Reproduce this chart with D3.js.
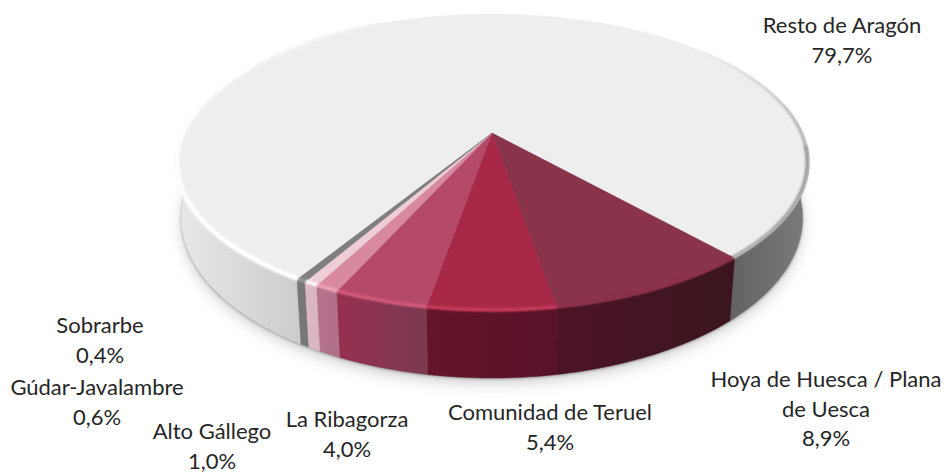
<!DOCTYPE html>
<html>
<head>
<meta charset="utf-8">
<script src="https://cdnjs.cloudflare.com/ajax/libs/d3/7.8.5/d3.min.js"></script>
<style>
  html, body { margin: 0; padding: 0; background: #fff; overflow: hidden; }
  svg { display: block; }
  text { font-family: Lato, "Open Sans", sans-serif; font-size: 22px; fill: #262626; text-anchor: middle; }
</style>
</head>
<body>
<svg id="chart" width="947" height="472"></svg>
<script>
const categories = ["Resto de Aragón", "Hoya de Huesca / Plana de Uesca", "Comunidad de Teruel", "La Ribagorza", "Alto Gállego", "Gúdar-Javalambre", "Sobrarbe"];
const shares = [79.7, 8.9, 5.4, 4.0, 1.0, 0.6, 0.4];
const shareLabels = ["79,7%", "8,9%", "5,4%", "4,0%", "1,0%", "0,6%", "0,4%"];

const topColors = ["#eeeeef", "#8a344c", "#a72947", "#b54a68", "#d8899f", "#eecdd7", "#7f7f7f"];
// side colours run along the slice in pie order
const sideFrom = ["#636363", "#3a151e", "#581228", "#7a3a50", "#b0708a", "#d9b5c2", "#777777"];
const sideTo = ["#e2e2e2", "#4c1425", "#661429", "#96304f", "#b5738a", "#dcb9c5", "#777777"];
const rimColors = ["#ffffff", "#8a2f49", "#c63a5c", "#d65a7c", "#f0a5b8", "#ffffff", "#999999"];

// label lines and anchor, one entry per category
const labelLines = [
  ["Resto de Aragón", "79,7%"],
  ["Hoya de Huesca / Plana", "de Uesca", "8,9%"],
  ["Comunidad de Teruel", "5,4%"],
  ["La Ribagorza", "4,0%"],
  ["Alto Gállego", "1,0%"],
  ["Gúdar-Javalambre", "0,6%"],
  ["Sobrarbe", "0,4%"]
];
const labelX = [842, 826, 550, 347, 212, 97, 100];
const labelY = [33, 387, 420, 427, 439, 395, 333];
const lineStep = 29.5;

const cx = 492, rx = 310.6, persp = 0.199;
const topPlane = { cy: 133, ry: 142.6, sx: 1 };
const bottomPlane = { cy: 186, ry: 153.8, sx: 0.98 };

// disc angle -> screen, perspective drop toward the viewer
function project(angle, plane, r = 1) {
  const u = Math.sin(angle) * r, v = -Math.cos(angle) * r;
  const w = 1 - persp * v;
  return [cx + plane.sx * rx * u / w, plane.cy + plane.ry * v / w];
}

const deg = Math.PI / 180;
const pie = d3.pie().sort(null).value(d => d)
  .startAngle(-148.6 * deg).endAngle(211.4 * deg);
const arcs = pie(shares);

const svg = d3.select("#chart");
const defs = svg.append("defs");
function blur(id, sd) {
  defs.append("filter").attr("id", id).attr("x", "-10%").attr("y", "-10%").attr("width", "120%").attr("height", "120%")
    .append("feGaussianBlur").attr("stdDeviation", sd);
}
blur("soft", 7);
blur("tight", 1.4);
blur("rim", 1.1);

const line = d3.line();
const stepsOf = (a, b) => d3.range(a, b, deg).concat([b]);
const discPath = (dy) => line(stepsOf(0, 2 * Math.PI).map(a => {
  const p = project(a, bottomPlane);
  return [p[0], p[1] + dy];
})) + "Z";

// shadow under the disc
svg.append("path").attr("d", discPath(6))
  .attr("fill", "#b5b5b5").attr("opacity", 0.6).attr("filter", "url(#soft)");
svg.append("path").attr("d", discPath(1))
  .attr("fill", "#777777").attr("opacity", 0.7).attr("filter", "url(#tight)");

// side wall, only the angles facing us
const wall = svg.append("g");
let wallId = 0;
function drawWall(a, b, c0, c1) {
  const id = "wall" + wallId++;
  const angles = stepsOf(a, b);
  const xs = d3.extent(angles, t => project(t, topPlane)[0]);
  // x runs right to left along the front of the disc
  const grad = defs.append("linearGradient").attr("id", id).attr("gradientUnits", "userSpaceOnUse")
    .attr("x1", xs[1]).attr("x2", xs[0]).attr("y1", 0).attr("y2", 0);
  grad.append("stop").attr("offset", 0).attr("stop-color", c0);
  grad.append("stop").attr("offset", 1).attr("stop-color", c1);
  const outline = angles.map(t => project(t, topPlane))
    .concat(angles.slice().reverse().map(t => project(t, bottomPlane)));
  wall.append("path").attr("d", line(outline) + "Z").attr("fill", `url(#${id})`)
    .attr("stroke", `url(#${id})`).attr("stroke-width", 0.5);
}
arcs.forEach((d, i) => {
  if (i === 0) {
    // Resto wraps round the back, so it has two visible pieces
    drawWall(78 * deg, arcs[1].startAngle, "#7c7c7c", "#636363");
    drawWall(arcs[6].endAngle, 282 * deg, "#cdcdcd", "#e8e8e8");
    return;
  }
  drawWall(d.startAngle, d.endAngle, sideFrom[i], sideTo[i]);
});

// top faces
svg.append("g").selectAll("path").data(arcs).join("path")
  .attr("d", d => line([[cx, topPlane.cy]].concat(stepsOf(d.startAngle, d.endAngle).map(a => project(a, topPlane)))) + "Z")
  .attr("fill", (d, i) => topColors[i])
  .attr("stroke", (d, i) => topColors[i]).attr("stroke-width", 0.4);

// soft rim where the top meets the wall
const rim = svg.append("g").attr("filter", "url(#rim)").attr("fill", "none");
function rimRun(a, b, c0, c1, width) {
  const angles = stepsOf(a, b);
  const colour = d3.scaleLinear().domain([a, b]).range([c0, c1]);
  angles.slice(0, -1).forEach((t, k) => {
    rim.append("path").attr("d", line([project(t, topPlane, 0.995), project(angles[k + 1], topPlane, 0.995)]))
      .attr("stroke", colour(t)).attr("stroke-width", width);
  });
}
arcs.forEach((d, i) => {
  if (i === 0) {
    rimRun(arcs[6].endAngle, 300 * deg, "#ffffff", "#ffffff", 5);
    rimRun(300 * deg, 335 * deg, "#ffffff", "#eeeeef", 3);
    rimRun(50 * deg, 95 * deg, "#eeeeef", "#8c8c8c", 2);
    rimRun(95 * deg, arcs[1].startAngle, "#8c8c8c", "#a8a8a8", 3.5);
    return;
  }
  rimRun(d.startAngle, d.endAngle, rimColors[i], rimColors[i], 3.5);
});

// labels
svg.append("g").selectAll("text").data(labelLines).join("text")
  .attr("transform", (d, i) => `translate(${labelX[i]},${labelY[i]})`)
  .each(function (lines) {
    d3.select(this).selectAll("tspan").data(lines).join("tspan")
      .attr("x", 0).attr("y", (t, k) => k * lineStep).text(t => t);
  });
</script>
</body>
</html>
